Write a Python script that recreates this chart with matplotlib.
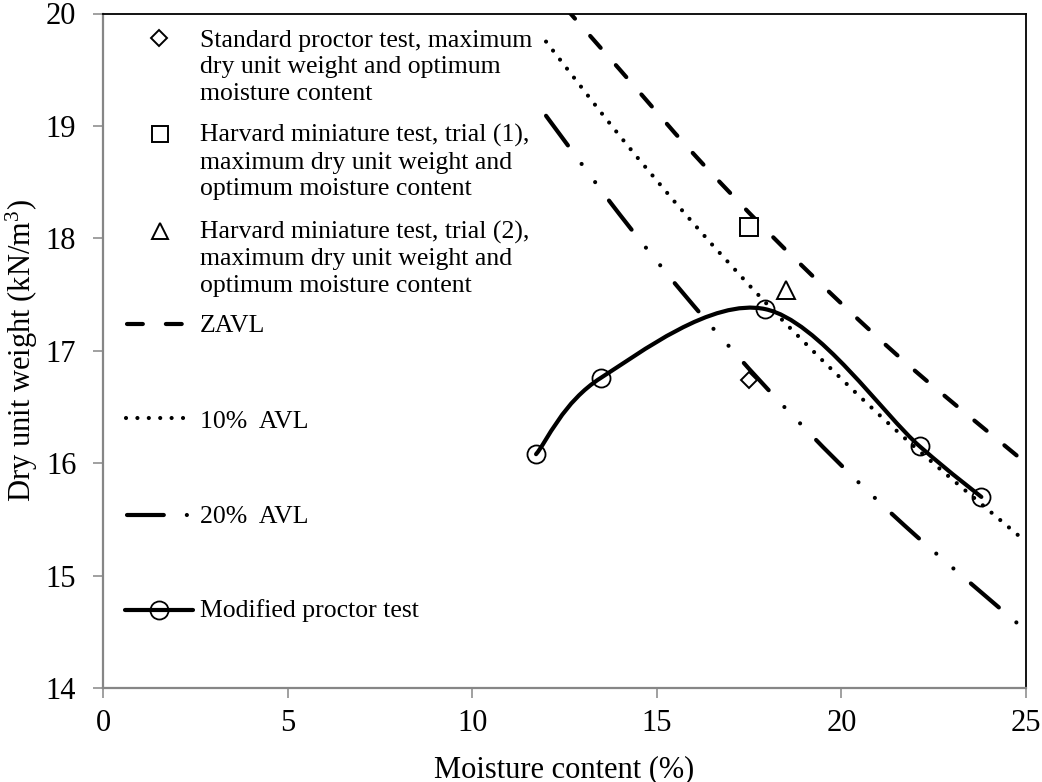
import matplotlib
matplotlib.use("Agg")
import matplotlib.pyplot as plt
from matplotlib.path import Path
from matplotlib.patches import PathPatch
from matplotlib.lines import Line2D

# ---- data -------------------------------------------------------------
mod_w = [11.73, 13.49, 17.94, 22.12, 23.79]
mod_gd = [16.08, 16.76, 17.37, 16.15, 15.70]

std_w, std_gd = [17.49], [16.74]
hv1_w, hv1_gd = [17.50], [18.10]
hv2_w, hv2_gd = [18.50], [17.54]

zavl_w = [12.50, 14.0, 16.0, 18.0, 20.0, 22.0, 25.0]
zavl_gd = [20.06, 19.50, 18.75, 18.06, 17.42, 16.82, 16.00]

avl10_w = [12.0, 14.0, 16.0, 18.0, 20.0, 22.0, 25.0]
avl10_gd = [19.75, 18.91, 18.13, 17.41, 16.75, 16.14, 15.30]

avl20_w = [12.0, 14.0, 16.0, 18.0, 20.0, 22.0, 25.0]
avl20_gd = [19.09, 18.21, 17.40, 16.66, 15.98, 15.36, 14.51]

x_ticks = [0, 5, 10, 15, 20, 25]
y_ticks = [14, 15, 16, 17, 18, 19, 20]

legend_std = ["Standard proctor test, maximum",
              "dry unit weight and optimum",
              "moisture content"]
legend_hv1 = ["Harvard miniature test, trial (1),",
              "maximum dry unit weight and",
              "optimum moisture content"]
legend_hv2 = ["Harvard miniature test, trial (2),",
              "maximum dry unit weight and",
              "optimum moisture content"]
legend_zavl = "ZAVL"
legend_10 = "10%  AVL"
legend_20 = "20%  AVL"
legend_mod = "Modified proctor test"

# ---- style ------------------------------------------------------------
plt.rcParams["font.family"] = ["Liberation Serif", "DejaVu Serif"]
plt.rcParams["mathtext.fontset"] = "custom"
plt.rcParams["mathtext.rm"] = "Liberation Serif"
plt.rcParams["mathtext.it"] = "Liberation Serif:italic"
plt.rcParams["lines.scale_dashes"] = False

W, H = 1042, 782
LW = 3.0
GRAY = "#868686"
TICK_FS = 22
LEG_FS = 18.5

DASH = (0, (11.4, 16.6))
DOT = (0, (0.01, 8.2))
DASHDOTDOT = (0, (26.5, 16.6, 0.01, 16.3, 0.01, 16.6))

fig = plt.figure(figsize=(W / 100, H / 100), dpi=100)
ax = fig.add_axes([103 / W, 1 - 688 / H, (1026 - 103) / W, (688 - 13.5) / H])


def smooth_path(xs, ys):
    """Cubic Bezier path through the points (Catmull-Rom style tangents)."""
    pts = list(zip(xs, ys))
    n = len(pts)
    verts, codes = [pts[0]], [Path.MOVETO]
    for i in range(n - 1):
        p0 = pts[i - 1] if i > 0 else pts[i]
        p1, p2 = pts[i], pts[i + 1]
        p3 = pts[i + 2] if i + 2 < n else pts[i + 1]
        c1 = (p1[0] + (p2[0] - p0[0]) / 6, p1[1] + (p2[1] - p0[1]) / 6)
        c2 = (p2[0] - (p3[0] - p1[0]) / 6, p2[1] - (p3[1] - p1[1]) / 6)
        verts += [c1, c2, p2]
        codes += [Path.CURVE4] * 3
    return Path(verts, codes)


def add_curve(xs, ys, ls, z=2):
    patch = PathPatch(smooth_path(xs, ys), fill=False, edgecolor="black",
                      linewidth=LW, linestyle=ls, capstyle="round",
                      joinstyle="round", zorder=z)
    ax.add_patch(patch)


add_curve(zavl_w, zavl_gd, DASH)
add_curve(avl10_w, avl10_gd, DOT)
add_curve(avl20_w, avl20_gd, DASHDOTDOT)
add_curve(mod_w, mod_gd, "-", z=3)

ax.plot(mod_w, mod_gd, ls="none", marker="o", ms=13, mfc="none",
        mec="black", mew=1.3, zorder=4)
ax.plot(std_w, std_gd, ls="none", marker="D", ms=8.2, mfc="white",
        mec="black", mew=1.4, zorder=4)
ax.plot(hv1_w, hv1_gd, ls="none", marker="s", ms=13, mfc="white",
        mec="black", mew=1.4, zorder=4)
ax.plot(hv2_w, hv2_gd, ls="none", marker="^", ms=13, mfc="white",
        mec="black", mew=1.4, zorder=4)

ax.set_xlim(0, 25)
ax.set_ylim(14, 20)
ax.set_xticks(x_ticks)
ax.set_yticks(y_ticks)
ax.tick_params(direction="out", length=7.2, width=1.1, color=GRAY,
               labelsize=TICK_FS)
ax.tick_params(axis="x", pad=8)
ax.tick_params(axis="y", pad=12)
for side in ("top", "right"):
    ax.spines[side].set_color("black")
    ax.spines[side].set_linewidth(1.3)
for side in ("left", "bottom"):
    ax.spines[side].set_color(GRAY)
    ax.spines[side].set_linewidth(1.6)

fig.text(564 / W, 1 - 777 / H, "Moisture content (%)", fontsize=TICK_FS,
         ha="center", va="baseline")
fig.text(22 / W, 1 - 351 / H, r"Dry unit weight (kN/m$^{3}$)",
         fontsize=TICK_FS, ha="center", va="center", rotation=90)

# ---- legend, laid out in pixel space on an overlay ---------------------
lg = fig.add_axes([0, 0, 1, 1], facecolor="none")
lg.set_xlim(0, W)
lg.set_ylim(H, 0)
lg.axis("off")

TX = 200
LINE_H = 26.5


def legend_text(lines, y0):
    for k, s in enumerate(lines):
        lg.text(TX, y0 + k * LINE_H, s, fontsize=LEG_FS, ha="left",
                va="baseline")


lg.plot([159], [38], marker="D", ms=8.2, mfc="white", mec="black", mew=1.4)
legend_text(legend_std, 46.5)
lg.plot([160], [134], marker="s", ms=12, mfc="white", mec="black", mew=1.4)
legend_text(legend_hv1, 142)
lg.plot([160], [231], marker="^", ms=12, mfc="white", mec="black", mew=1.4)
legend_text(legend_hv2, 239)

lg.add_line(Line2D([127, 182], [324, 324], color="black", lw=LW,
                   linestyle=DASH, dash_capstyle="round"))
legend_text([legend_zavl], 332)
lg.add_line(Line2D([125.5, 184], [418, 418], color="black", lw=LW,
                   linestyle=DOT, dash_capstyle="round"))
legend_text([legend_10], 428)
lg.add_line(Line2D([127, 188], [515, 515], color="black", lw=LW,
                   linestyle=DASHDOTDOT, dash_capstyle="round"))
legend_text([legend_20], 523)
lg.add_line(Line2D([125, 193], [610, 610], color="black", lw=LW,
                   solid_capstyle="round"))
lg.plot([159], [610], marker="o", ms=13, mfc="none", mec="black", mew=1.3)
legend_text([legend_mod], 617)

fig.savefig("out.png", dpi=100)
